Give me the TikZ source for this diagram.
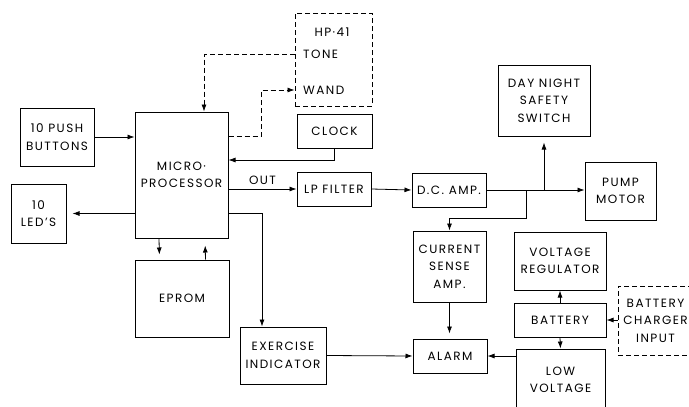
\documentclass[tikz,border=0pt]{standalone}
\usepackage{fontspec}
\setsansfont[LetterSpace=12]{Poppins}
\usetikzlibrary{arrows.meta}

\tikzset{
  blk/.style={draw, line width=1pt, align=center, inner sep=0pt,
    font=\sffamily\fontsize{12}{17.5}\selectfont},
  dblk/.style={blk, dash pattern=on 5pt off 3pt},
  lbl/.style={inner sep=0pt, font=\sffamily\fontsize{12}{17.5}\selectfont},
  conn/.style={line width=0.8pt, -{Latex[length=7pt,width=5pt]}},
  dconn/.style={conn, dash pattern=on 5pt off 3pt},
}

\begin{document}
\begin{tikzpicture}[x=1pt, y=-1pt]
  \useasboundingbox (0,0) rectangle (689,407);
  \clip (0,0) rectangle (689,407);

  % left column
  \node[blk, minimum width=74, minimum height=58] (push) at (57,137) {10 PUSH\\BUTTONS};
  \node[blk, minimum width=55, minimum height=59] (leds) at (38.5,213.5) {10\\LED'S};
  \node[blk, minimum width=93, minimum height=126] (micro) at (181.5,175) {MICRO·\\PROCESSOR};
  \node[blk, minimum width=94, minimum height=77] (eprom) at (182,298.5) {EPROM};

  % HP-41 (dashed)
  \node[dblk, minimum width=77, minimum height=93] (hp) at (333.5,59.5) {};
  \node[lbl] (hpt) at (332,32) {HP·41};
  \node[lbl, anchor=west] (tone) at (303,54) {TONE};
  \node[lbl, anchor=west] (wand) at (303,90) {WAND};

  % middle row
  \node[blk, minimum width=75, minimum height=34] (clock) at (334.5,131) {CLOCK};
  \node[blk, minimum width=74, minimum height=34] (lpf) at (334,189) {LP FILTER};
  \node[blk, minimum width=74, minimum height=34] (dcamp) at (449,190) {D.C. AMP.};
  \node[blk, minimum width=92, minimum height=71] (dns) at (544,100.5) {DAY NIGHT\\SAFETY\\SWITCH};
  \node[blk, minimum width=71, minimum height=58] (pump) at (620.5,191) {PUMP\\MOTOR};

  % lower right
  \node[blk, minimum width=73, minimum height=71] (csa) at (449.5,266.5) {CURRENT\\SENSE\\AMP.};
  \node[blk, minimum width=92, minimum height=58] (vreg) at (560,261) {VOLTAGE\\REGULATOR};
  \node[blk, minimum width=92, minimum height=34] (batt) at (560,320) {BATTERY};
  \node[dblk, minimum width=75, minimum height=69] (chg) at (655.5,320.5) {BATTERY\\CHARGER\\INPUT};
  \node[blk, minimum width=74, minimum height=34] (alarm) at (450,356) {ALARM};
  \node[blk, minimum width=89, minimum height=62] (lowv) at (560.5,380) {LOW\\VOLTAGE};
  \node[blk, minimum width=86, minimum height=57] (exer) at (283,355.5) {EXERCISE\\INDICATOR};

  % connectors
  \draw[conn] (push.east) -- (push.east -| micro.west);
  \draw[conn, shorten >=6pt] (micro.west |- leds.east) -- (leds.east);
  \draw[conn, shorten >=5pt] ([xshift=-22.5pt]micro.south) -- ([xshift=-22.5pt]eprom.north);
  \draw[conn, shorten >=7pt] ([xshift=23.5pt]eprom.north) -- ([xshift=23.5pt]micro.south);
  \draw[dconn] (hp.west |- tone.west) -| ([xshift=22.5pt]micro.north);
  \draw[dconn] ([yshift=39pt]micro.east) -- ++(33,0) |- (hp.west |- wand.west);
  \draw[conn] (clock.south) |- ([yshift=15pt]micro.east);
  \draw[conn] (micro.east |- lpf.west) -- (lpf.west) node[lbl, midway, above=4pt] (out) {OUT};
  \draw[conn] (micro.east |- leds.east) -| ([xshift=-21pt]exer.north);
  \draw[conn] (lpf.east) -- (dcamp.west);
  \draw[conn] (dcamp.east) -- (pump.west |- dcamp.east);
  \draw[conn, shorten >=6pt] (dns.south |- dcamp.east) -- (dns.south);
  \draw[conn] ([xshift=40pt]dcamp.east) |- ([yshift=12pt]csa.north) -- (csa.north);
  \draw[conn, shorten >=5pt] (csa.south) -- (csa.south |- alarm.north);
  \draw[conn] (exer.east) -- (alarm.west);
  \draw[conn] (lowv.west |- alarm.east) -- (alarm.east);
  \draw[conn] (batt.north) -- (vreg.south);
  \draw[conn] (batt.south) -- (lowv.north);
  \draw[dconn] (chg.west |- batt.east) -- (batt.east);
\end{tikzpicture}
\end{document}
